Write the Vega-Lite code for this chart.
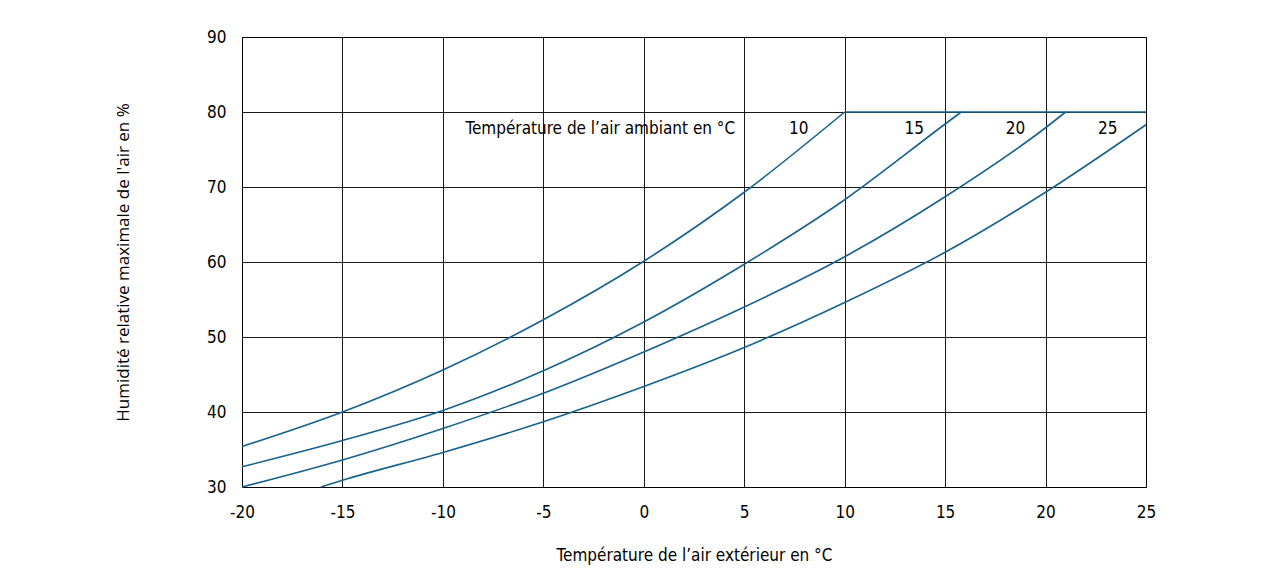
{
  "$schema": "https://vega.github.io/schema/vega-lite/v6.json",
  "autosize": {"type": "none"},
  "padding": {"left": 242, "top": 37, "right": 118, "bottom": 92},
  "width": 904,
  "height": 450,
  "background": "white",
  "config": {
    "view": {"stroke": "#000000", "strokeWidth": 1},
    "font": "DejaVu Sans Condensed",
    "axis": {
      "grid": true,
      "gridColor": "#000000",
      "gridWidth": 1,
      "gridOpacity": 0.9,
      "domain": false,
      "ticks": false,
      "tickSize": 0,
      "labelFlush": false,
      "labelFont": "DejaVu Sans Condensed",
      "labelFontSize": 17,
      "labelColor": "#000000",
      "titleColor": "#000000",
      "titleFontWeight": "normal"
    }
  },
  "datasets": {
    "curves": [
      {"t": 10, "x": -20, "y": 35.4}, {"t": 10, "x": -15, "y": 40.0}, {"t": 10, "x": -10, "y": 45.6}, {"t": 10, "x": -5, "y": 52.3}, {"t": 10, "x": 0, "y": 60.1}, {"t": 10, "x": 5, "y": 69.3}, {"t": 10, "x": 10, "y": 80},
      {"t": 15, "x": -20, "y": 32.7}, {"t": 15, "x": -15, "y": 36.2}, {"t": 15, "x": -10, "y": 40.2}, {"t": 15, "x": -5, "y": 45.5}, {"t": 15, "x": 0, "y": 52.0}, {"t": 15, "x": 5, "y": 59.7}, {"t": 15, "x": 10, "y": 68.3}, {"t": 15, "x": 15, "y": 78.4}, {"t": 15, "x": 15.8, "y": 80},
      {"t": 20, "x": -20, "y": 30.0}, {"t": 20, "x": -15, "y": 33.6}, {"t": 20, "x": -10, "y": 37.8}, {"t": 20, "x": -5, "y": 42.5}, {"t": 20, "x": 0, "y": 48.0}, {"t": 20, "x": 5, "y": 54.0}, {"t": 20, "x": 10, "y": 60.7}, {"t": 20, "x": 15, "y": 68.7}, {"t": 20, "x": 20, "y": 77.9}, {"t": 20, "x": 21, "y": 80},
      {"t": 25, "x": -16.07, "y": 30.0}, {"t": 25, "x": -15, "y": 30.9}, {"t": 25, "x": -10, "y": 34.6}, {"t": 25, "x": -5, "y": 38.7}, {"t": 25, "x": 0, "y": 43.4}, {"t": 25, "x": 5, "y": 48.6}, {"t": 25, "x": 10, "y": 54.6}, {"t": 25, "x": 15, "y": 61.3}, {"t": 25, "x": 20, "y": 69.3}, {"t": 25, "x": 25, "y": 78.3}
    ],
    "cap": [{"x": 10, "x2": 25, "y": 80}],
    "title": [
      {"text": "Température de l’air ambiant en °C", "x": 4.55, "y": 77.7}
    ],
    "labels": [
      {"text": "10", "x": 7.71, "y": 77.7},
      {"text": "15", "x": 13.46, "y": 77.7},
      {"text": "20", "x": 18.5, "y": 77.7},
      {"text": "25", "x": 23.1, "y": 77.7}
    ]
  },
  "layer": [
    {
      "data": {"name": "curves"},
      "mark": {"type": "line", "interpolate": "monotone", "color": "#17628f", "strokeWidth": 1.6},
      "encoding": {
        "x": {
          "field": "x", "type": "quantitative",
          "scale": {"domain": [-20, 25], "nice": false, "zero": false},
          "axis": {
            "values": [-20, -15, -10, -5, 0, 5, 10, 15, 20, 25],
            "labelExpr": "'' + datum.value",
            "labelPadding": 17,
            "title": "Température de l’air extérieur en °C",
            "titleFont": "DejaVu Sans Condensed",
            "titleFontSize": 17,
            "titleY": 68,
            "titleBaseline": "middle"
          }
        },
        "y": {
          "field": "y", "type": "quantitative",
          "scale": {"domain": [30, 90], "nice": false, "zero": false},
          "axis": {
            "values": [30, 40, 50, 60, 70, 80, 90],
            "labelPadding": 16,
            "title": "Humidité relative maximale de l'air en %",
            "titleFont": "Open Sans",
            "titleFontSize": 17,
            "titleX": -119,
            "titleY": 225,
            "titleAngle": -90,
            "titleAlign": "center",
            "titleBaseline": "middle"
          }
        },
        "detail": {"field": "t", "type": "nominal"}
      }
    },
    {
      "data": {"name": "cap"},
      "mark": {"type": "rule", "color": "#17628f", "strokeWidth": 1.6},
      "encoding": {
        "x": {"field": "x", "type": "quantitative"},
        "x2": {"field": "x2"},
        "y": {"field": "y", "type": "quantitative"}
      }
    },
    {
      "data": {"name": "title"},
      "mark": {"type": "text", "fontSize": 17, "font": "DejaVu Sans Condensed", "color": "#000000", "baseline": "middle", "align": "right"},
      "encoding": {
        "x": {"field": "x", "type": "quantitative"},
        "y": {"field": "y", "type": "quantitative"},
        "text": {"field": "text"}
      }
    },
    {
      "data": {"name": "labels"},
      "mark": {"type": "text", "fontSize": 17, "font": "DejaVu Sans Condensed", "color": "#000000", "baseline": "middle", "align": "center"},
      "encoding": {
        "x": {"field": "x", "type": "quantitative"},
        "y": {"field": "y", "type": "quantitative"},
        "text": {"field": "text"}
      }
    }
  ]
}
